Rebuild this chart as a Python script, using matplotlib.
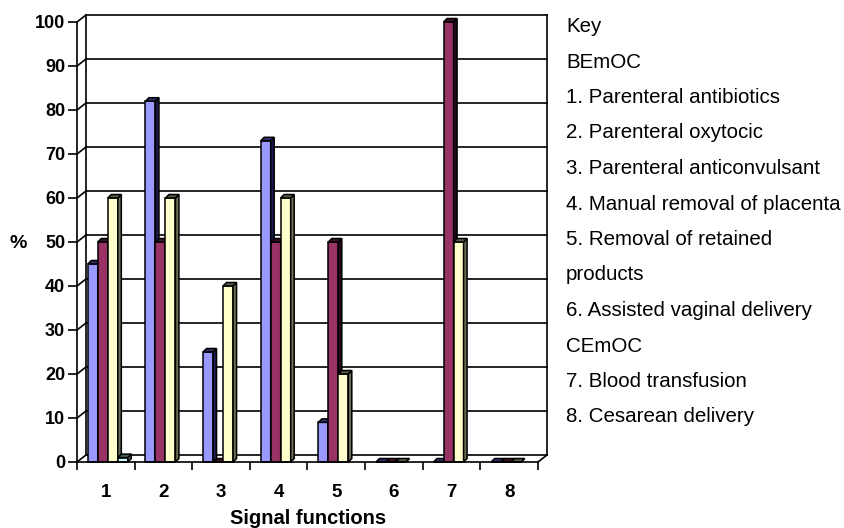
import matplotlib.pyplot as plt
import matplotlib.patches as mpatches
import numpy as np

plt.rcParams["font.family"] = ["Liberation Sans", "DejaVu Sans"]

# ── data ────────────────────────────────────────────────────────────────────
categories = ["1", "2", "3", "4", "5", "6", "7", "8"]
blue_vals = [45, 82, 25, 73, 9, 0, 0, 0]
purple_vals = [50, 50, 0, 50, 50, 0, 100, 0]
yellow_vals = [60, 60, 40, 60, 20, 0, 50, 0]
cyan_vals = [1, np.nan, np.nan, np.nan, np.nan, np.nan, np.nan, np.nan]

y_ticks = [0, 10, 20, 30, 40, 50, 60, 70, 80, 90, 100]

key_lines = [
    "Key",
    "BEmOC",
    "1. Parenteral antibiotics",
    "2. Parenteral oxytocic",
    "3. Parenteral anticonvulsant",
    "4. Manual removal of placenta",
    "5. Removal of retained",
    "products",
    "6. Assisted vaginal delivery",
    "CEmOC",
    "7. Blood transfusion",
    "8. Cesarean delivery",
]

# ── styling ─────────────────────────────────────────────────────────────────
SERIES = [
    # values, front, side, top
    (blue_vals, "#9999FF", "#1c1c50", "#2e2e66"),
    (purple_vals, "#993366", "#26081a", "#3c1028"),
    (yellow_vals, "#FFFFCC", "#6e6e55", "#5a5a46"),
    (cyan_vals, "#CCFFFF", "#557070", "#466060"),
]

W, H = 845, 528
fig = plt.figure(figsize=(W / 100, H / 100), dpi=100)

# front plane of the pseudo-3D box, in pixels
x0_px, x1_px = 77, 538
y0_px, y1_px = 462, 22
ax = fig.add_axes([x0_px / W, 1 - y0_px / H, (x1_px - x0_px) / W, (y0_px - y1_px) / H])
ax.set_xlim(0.5, 8.5)
ax.set_ylim(0, 100)

px_x = 8 / (x1_px - x0_px)      # data units per pixel
px_y = 100 / (y0_px - y1_px)
DX, DY = 9 * px_x, 7 * px_y       # wall depth
bdx, bdy = 3.5 * px_x, 3.5 * px_y  # bar depth
bar_w = 10 * px_x
shift = 2 * px_x

LW = 1.2
kw = dict(color="black", lw=LW, clip_on=False, zorder=1)

# back wall gridlines + left wall diagonals
for t in y_ticks:
    ax.plot([0.5 + DX, 8.5 + DX], [t + DY, t + DY], **kw)
    ax.plot([0.5, 0.5 + DX], [t, t + DY], **kw)
ax.plot([0.5 + DX, 0.5 + DX], [DY, 100 + DY], **kw)
ax.plot([8.5 + DX, 8.5 + DX], [DY, 100 + DY], **kw)
ax.plot([8.5, 8.5 + DX], [0, DY], **kw)

# bars
xs = np.arange(1, len(categories) + 1)
n = len(SERIES)
for g, xc in enumerate(xs):
    for i, (vals, c_front, c_side, c_top) in enumerate(SERIES):
        v = vals[g]
        if np.isnan(v):
            continue
        left = xc + shift + (i - n / 2) * bar_w
        ax.bar(left, v, bar_w, align="edge", color=c_front, edgecolor="black",
               linewidth=1.1, zorder=3, clip_on=False)
        side = [(left + bar_w, 0), (left + bar_w, v),
                (left + bar_w + bdx, v + bdy), (left + bar_w + bdx, bdy)]
        top = [(left, v), (left + bar_w, v),
               (left + bar_w + bdx, v + bdy), (left + bdx, v + bdy)]
        ax.add_patch(mpatches.Polygon(side, closed=True, facecolor=c_side,
                                      edgecolor="black", lw=1.1, zorder=3, clip_on=False))
        ax.add_patch(mpatches.Polygon(top, closed=True, facecolor=c_top,
                                      edgecolor="black", lw=1.1, zorder=3, clip_on=False))

# axes / ticks
for s in ["top", "right"]:
    ax.spines[s].set_visible(False)
for s in ["left", "bottom"]:
    ax.spines[s].set_linewidth(LW)
    ax.spines[s].set_zorder(4)
ax.set_facecolor("none")

ax.set_yticks(y_ticks)
ax.set_yticklabels([str(t) for t in y_ticks], fontsize=13, fontweight="bold")
ax.tick_params(axis="y", direction="out", length=6.5, width=LW, pad=2)

ax.set_xticks(xs)
ax.set_xticklabels(categories, fontsize=13.5, fontweight="bold")
ax.set_xticks(np.arange(0.5, 9.0, 1.0), minor=True)
ax.tick_params(axis="x", which="major", length=0, pad=16)
ax.tick_params(axis="x", which="minor", direction="out", length=6, width=LW)

fig.text(308.5 / W, 1 - 518 / H, "Signal functions", fontsize=14.5, fontweight="bold",
         ha="center", va="center")
fig.text(18 / W, 1 - 243 / H, "%", fontsize=14, fontweight="bold",
         ha="center", va="center")

# key
for k, line in enumerate(key_lines):
    fig.text(566 / W, 1 - (32 + k * 35.5) / H, line, fontsize=14.8,
             ha="left", va="baseline")

fig.savefig("out.png", dpi=100)
